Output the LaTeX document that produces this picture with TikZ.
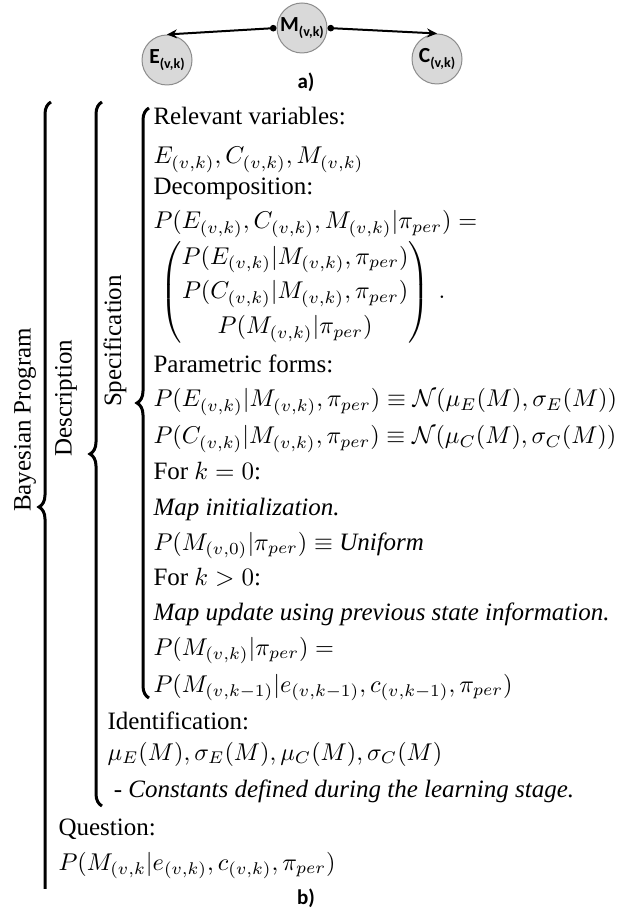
\documentclass[tikz,border=0pt]{standalone}
\usepackage{amsmath}
\usepackage{graphicx}
\usepackage[no-math]{fontspec}
\setmainfont{Liberation Serif}
\newfontfamily\labelfont{Carlito}
\usetikzlibrary{arrows.meta,decorations.pathreplacing}

\newcommand{\lowsub}[1]{\raisebox{-1.8pt}{\fontsize{5.6}{6}\selectfont #1}}
\newcommand{\mrow}[1]{\scalebox{0.97}{$#1$}}

\begin{document}
\begin{tikzpicture}[
        x=0.4pt, y=-0.4pt,
    varnode/.style={
        circle,
        draw=gray!90,
        fill=gray!30,
        inner sep=0pt,
        minimum size=20pt,
        font=\labelfont\bfseries\fontsize{8.6}{9}\selectfont},
    tag/.style={font=\labelfont\bfseries\fontsize{8.4}{10}\selectfont},
    myarrow/.style={{Circle[length=2.6pt]}-{Stealth[length=4pt,width=3.6pt]},line width=0.8pt},
    rowtext/.style={anchor=base west,inner sep=0pt,font=\fontsize{10}{12}\selectfont},
    sidetext/.style={rotate=90,inner sep=0pt,font=\fontsize{10}{12}\selectfont},
    bigbrace/.style={decorate,decoration={brace,amplitude=4.8pt},line width=1.2pt}
    ]
    \useasboundingbox (0,0) rectangle (626,910);

    % a) the network
    \node[varnode] (m) at (302,28) {M\lowsub{(v,k)}};
    \node[varnode] (e) at (167,60) {E\lowsub{(v,k)}};
    \node[varnode] (c) at (437,59) {C\lowsub{(v,k)}};
    \draw[myarrow] (m.west) -- (e.north);
    \draw[myarrow] (m.east) -- (c.north);
    \node[tag] (tagA) at (306,82) {a)};

    % b) the program
    \begin{scope}
        \clip (0,0) rectangle (626,888);
        \draw[bigbrace] (51,912) -- (51,102);
    \end{scope}
    \draw[bigbrace] (102,806) -- (102,102);
    \draw[bigbrace] (149,698) -- (149,108);

    \node[sidetext] (prog) at (25,420) {Bayesian Program};
    \node[sidetext] (desc) at (66,398) {Description};
    \node[sidetext] (spec) at (115,341) {Specification};

    \foreach \n/\xx/\yy/\txt in {% name/x/baseline/text
        rel/153/125/{Relevant variables:},
        vars/153/164/{\mrow{E_{(v,k)}, C_{(v,k)}, M_{(v,k)}}},
        dcp/153/195/{Decomposition:},
        joint/153/229/{\mrow{P(E_{(v,k)}, C_{(v,k)}, M_{(v,k)}|\pi_{per}) =}},
        par/153/373/{Parametric forms:},
        pe/153/407/{\mrow{P(E_{(v,k)}|M_{(v,k)}, \pi_{per}) \equiv \mathcal{N}(\mu_E(M), \sigma_E(M))}},
        pc/153/444/{\mrow{P(C_{(v,k)}|M_{(v,k)}, \pi_{per}) \equiv \mathcal{N}(\mu_C(M), \sigma_C(M))}},
        kzero/153/480/{For $k = 0$:},
        init/153/515/{\textit{Map initialization.}},
        unif/153/550/{\mrow{P(M_{(v,0)}|\pi_{per}) \equiv} \textit{Uniform}},
        kpos/153/585/{For $k > 0$:},
        upd/153/620/{\textit{Map update using previous state information.}},
        pm/153/655/{\mrow{P(M_{(v,k)}|\pi_{per}) =}},
        prev/153/692/{\mrow{P(M_{(v,k-1)}|e_{(v,k-1)}, c_{(v,k-1)}, \pi_{per})}},
        ident/107/729/{Identification:},
        consts/107/760/{\mrow{\mu_E(M), \sigma_E(M), \mu_C(M), \sigma_C(M)}},
        learn/107/797/{\ - \textit{Constants defined during the learning stage.}},
        quest/58/835/{Question:},
        ask/58/870/{\mrow{P(M_{(v,k}|e_{(v,k)}, c_{(v,k)}, \pi_{per})}}}
        \node[rowtext] (\n) at (\xx,\yy) {\txt};

    \node[anchor=west,inner sep=0pt,font=\fontsize{10}{12}\selectfont] (prod) at (160,292)
        {\scalebox{0.97}{\renewcommand{\arraystretch}{1.2}$\begin{pmatrix}
            P(E_{(v,k)}|M_{(v,k)}, \pi_{per}) \\
            P(C_{(v,k)}|M_{(v,k)}, \pi_{per}) \\
            P(M_{(v,k)}|\pi_{per})
        \end{pmatrix}\hspace{2pt}.$}};

    \node[tag] (tagB) at (306,898) {b)};
\end{tikzpicture}
\end{document}
